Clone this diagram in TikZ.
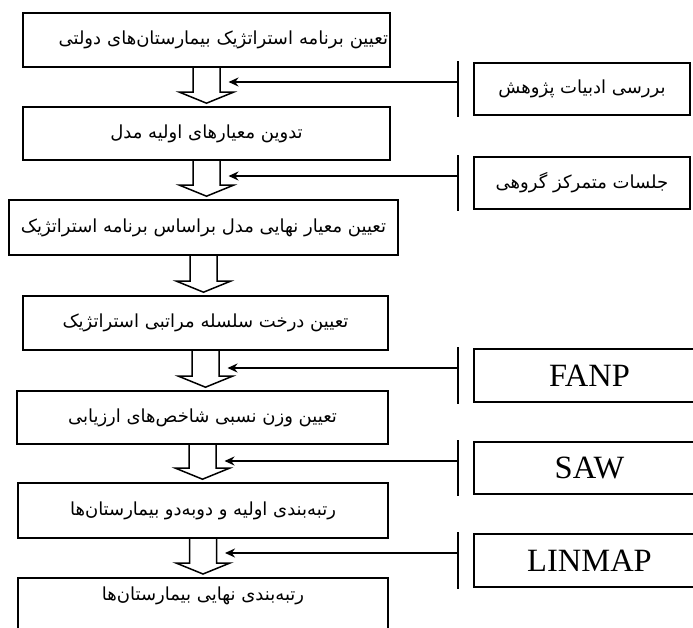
\documentclass[tikz,border=0pt]{standalone}
\usepackage{fontspec}
\usetikzlibrary{calc,arrows.meta}
\TeXXeTstate=1
\newfontfamily\persian[Script=Arabic]{DejaVu Sans}
\newfontfamily\latinserif{Liberation Serif}
\tikzset{
  pfont/.style={font=\persian\fontsize{18}{21}\selectfont},
  box/.style={draw, line width=1.6pt, rectangle, inner sep=0pt, pfont},
  sidebox/.style={draw, line width=1.6pt, rectangle, inner sep=0pt, minimum height=52pt},
  ptext/.style={inner sep=0pt, pfont},
  ltext/.style={font=\latinserif\fontsize{32.5}{35}\selectfont},
  hollow/.style={draw, line width=1.5pt, line join=miter},
  sidearrow/.style={draw, line width=1.6pt, -{Stealth[length=10pt,width=9pt]}},
  bar/.style={draw, line width=1.6pt},
}
\begin{document}
\begin{tikzpicture}[x=1pt,y=-1pt]
\useasboundingbox (0,0) rectangle (693,628);
\clip (0,0) rectangle (693,628);
% main boxes
\node[box, minimum width=367pt, minimum height=54pt, text width=363pt, align=right] (b1) at (206.5,40) {\beginR تعیین برنامه استراتژیک بیمارستان‌های دولتی\endR};
\node[box, minimum width=367pt, minimum height=53pt] (b2) at (206.5,133.5) {\beginR تدوین معیارهای اولیه مدل\endR};
\node[box, minimum width=389pt, minimum height=55pt] (b3) at (203.5,227.5) {\beginR تعیین معیار نهایی مدل براساس برنامه استراتژیک\endR};
\node[box, minimum width=365pt, minimum height=54pt] (b4) at (205.5,323) {\beginR تعیین درخت سلسله مراتبی استراتژیک\endR};
\node[box, minimum width=371pt, minimum height=53pt] (b5) at (202.5,417.5) {\beginR تعیین وزن نسبی شاخص‌های ارزیابی\endR};
\node[box, minimum width=370pt, minimum height=55pt] (b6) at (203,510.5) {\beginR رتبه‌بندی اولیه و دوبه‌دو بیمارستان‌ها\endR};
\node[box, minimum width=370pt, minimum height=70pt, anchor=north] (b7) at (203,577) {};
\node[ptext] (b7t) at (203,596) {\beginR رتبه‌بندی نهایی بیمارستان‌ها\endR};
% side boxes
\node[sidebox, minimum width=216pt, pfont] (s1) at (582,89) {\beginR بررسی ادبیات پژوهش\endR};
\node[sidebox, minimum width=216pt, pfont] (s2) at (582,183) {\beginR جلسات متمرکز گروهی\endR};
\node[sidebox, minimum width=231pt, minimum height=53pt, ltext] (s3) at (589.5,375.5) {FANP};
\node[sidebox, minimum width=231pt, ltext] (s4) at (589.5,468) {SAW};
\node[sidebox, minimum width=231pt, minimum height=53pt, ltext] (s5) at (589.5,560.5) {LINMAP};
% hollow arrows
\foreach \u/\v in {b1/b2,b2/b3,b3/b4,b4/b5,b5/b6,b6/b7}{
  \draw[hollow] let \p1=(\u.south), \p2=(\v.north) in
    (\x1-13.5,\y1) -- (\x1-13.5,\y2+14) -- (\x1-27,\y2+14) -- (\x1,\y2+3)
    -- (\x1+27,\y2+14) -- (\x1+13.5,\y2+14) -- (\x1+13.5,\y1);
}
% side connectors
\foreach \s/\b/\dy in {s1/b1/-7,s2/b2/-7,s3/b4/-7.5,s4/b5/-7,s5/b6/-7.5}{
  \coordinate (j\s) at ($(\s.west)+(-15,\dy)$);
  \coordinate (e\s) at ($(\b.south)+(22,0)$);
  \draw[bar] ($(\s.north west)+(-15,-1)$) -- ($(\s.south west)+(-15,1)$);
  \draw[sidearrow] (j\s) -- (e\s |- j\s);
}
\end{tikzpicture}
\end{document}
